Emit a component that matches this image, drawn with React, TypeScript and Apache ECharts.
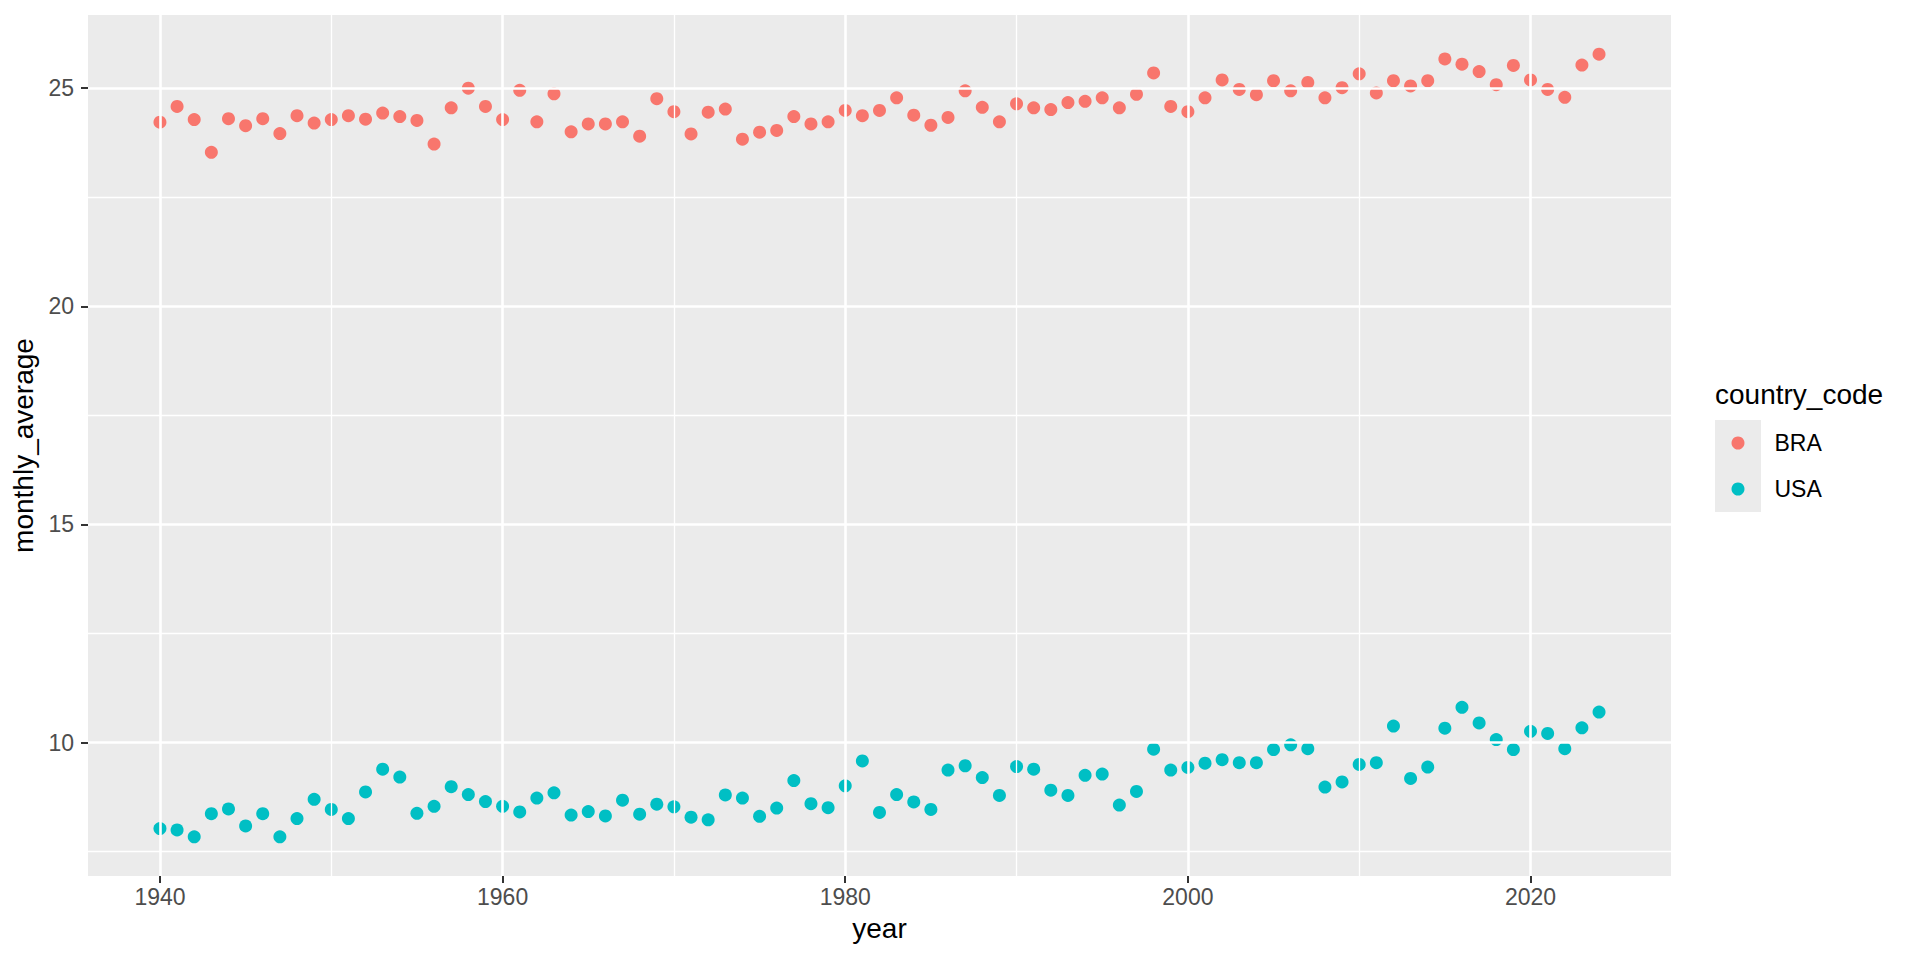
import React, { useEffect, useRef } from "react";
import * as echarts from "echarts";

const years = [
  1940, 1941, 1942, 1943, 1944, 1945, 1946, 1947, 1948, 1949,
  1950, 1951, 1952, 1953, 1954, 1955, 1956, 1957, 1958, 1959,
  1960, 1961, 1962, 1963, 1964, 1965, 1966, 1967, 1968, 1969,
  1970, 1971, 1972, 1973, 1974, 1975, 1976, 1977, 1978, 1979,
  1980, 1981, 1982, 1983, 1984, 1985, 1986, 1987, 1988, 1989,
  1990, 1991, 1992, 1993, 1994, 1995, 1996, 1997, 1998, 1999,
  2000, 2001, 2002, 2003, 2004, 2005, 2006, 2007, 2008, 2009,
  2010, 2011, 2012, 2013, 2014, 2015, 2016, 2017, 2018, 2019,
  2020, 2021, 2022, 2023, 2024,
];

const braValues = [
  24.22, 24.58, 24.28, 23.53, 24.30, 24.14, 24.30, 23.96, 24.37, 24.20,
  24.28, 24.37, 24.29, 24.43, 24.35, 24.26, 23.72, 24.55, 25.00, 24.58,
  24.28, 24.95, 24.23, 24.87, 24.00, 24.18, 24.18, 24.23, 23.90, 24.76,
  24.46, 23.95, 24.45, 24.52, 23.83, 23.99, 24.03, 24.35, 24.18, 24.23,
  24.49, 24.37, 24.49, 24.78, 24.38, 24.15, 24.33, 24.94, 24.56, 24.23,
  24.64, 24.55, 24.51, 24.67, 24.70, 24.78, 24.55, 24.86, 25.35, 24.58,
  24.46, 24.78, 25.19, 24.97, 24.85, 25.17, 24.94, 25.13, 24.78, 25.01,
  25.33, 24.89, 25.17, 25.05, 25.17, 25.67, 25.55, 25.38, 25.08, 25.52,
  25.19, 24.97, 24.79, 25.53, 25.78,
];

const usaValues = [
  8.03, 8.00, 7.84, 8.37, 8.48, 8.09, 8.37, 7.84, 8.26, 8.70,
  8.47, 8.26, 8.87, 9.39, 9.21, 8.38, 8.54, 8.99, 8.81, 8.65,
  8.54, 8.41, 8.73, 8.85, 8.34, 8.42, 8.32, 8.68, 8.36, 8.59,
  8.53, 8.29, 8.23, 8.80, 8.73, 8.31, 8.50, 9.13, 8.60, 8.51,
  9.01, 9.58, 8.40, 8.81, 8.64, 8.47, 9.37, 9.47, 9.20, 8.79,
  9.45, 9.39, 8.91, 8.79, 9.25, 9.28, 8.57, 8.88, 9.85, 9.37,
  9.43, 9.53, 9.61, 9.54, 9.54, 9.84, 9.95, 9.86, 8.98, 9.10,
  9.50, 9.54, 10.38, 9.18, 9.44, 10.33, 10.81, 10.45, 10.07, 9.84,
  10.26, 10.21, 9.86, 10.34, 10.70,
];

const seriesNames = ["BRA", "USA"];
const seriesColors = ["#F8766D", "#00BFC4"];
const xMajorTicks = [1940, 1960, 1980, 2000, 2020];
const xMinorTicks = [1950, 1970, 1990, 2010];
const yMajorTicks = [10, 15, 20, 25];
const yMinorTicks = [7.5, 12.5, 17.5, 22.5];

const FONT = "'Liberation Sans', Arial, Helvetica, sans-serif";

export default function App() {
  const ref = useRef<HTMLDivElement>(null);

  useEffect(() => {
    if (!ref.current) return;
    const chart = echarts.init(ref.current, null, { renderer: "svg" });

    const allVals = [...braValues, ...usaValues];
    const yLo = Math.min(...allVals);
    const yHi = Math.max(...allVals);
    const yPad = (yHi - yLo) * 0.05;
    const xLo = years[0];
    const xHi = years[years.length - 1];
    const xPad = (xHi - xLo) * 0.05;

    const gridLines = [
      ...xMajorTicks.map((v) => ({ xAxis: v, lineStyle: { width: 2.6 } })),
      ...xMinorTicks.map((v) => ({ xAxis: v, lineStyle: { width: 1.3 } })),
      ...yMajorTicks.map((v) => ({ yAxis: v, lineStyle: { width: 2.6 } })),
      ...yMinorTicks.map((v) => ({ yAxis: v, lineStyle: { width: 1.3 } })),
    ];

    const valueSets = [braValues, usaValues];

    chart.setOption({
      animation: false,
      textStyle: { fontFamily: FONT },
      grid: {
        left: 88,
        top: 15,
        width: 1583,
        height: 861,
        show: true,
        backgroundColor: "#EBEBEB",
        borderWidth: 0,
        containLabel: false,
        outerBoundsMode: "none",
      },
      xAxis: {
        type: "value",
        min: xLo - xPad,
        max: xHi + xPad,
        name: "year",
        nameLocation: "middle",
        nameGap: 38,
        nameTextStyle: { fontSize: 28, color: "#000000", fontFamily: FONT },
        axisLine: { show: false },
        splitLine: { show: false },
        axisTick: {
          show: true,
          length: 7,
          customValues: xMajorTicks,
          lineStyle: { color: "#333333", width: 2 },
        },
        axisLabel: {
          show: true,
          customValues: xMajorTicks,
          formatter: (v: number) => String(v),
          margin: 9,
          fontSize: 23,
          color: "#4D4D4D",
          fontFamily: FONT,
        },
      },
      yAxis: {
        type: "value",
        min: yLo - yPad,
        max: yHi + yPad,
        name: "monthly_average",
        nameLocation: "middle",
        nameGap: 46,
        nameTextStyle: { fontSize: 28, color: "#000000", fontFamily: FONT },
        axisLine: { show: false },
        splitLine: { show: false },
        axisTick: {
          show: true,
          length: 7,
          customValues: yMajorTicks,
          lineStyle: { color: "#333333", width: 2 },
        },
        axisLabel: {
          show: true,
          customValues: yMajorTicks,
          formatter: (v: number) => String(v),
          margin: 14,
          fontSize: 23,
          color: "#4D4D4D",
          fontFamily: FONT,
        },
      },
      legend: {
        orient: "vertical",
        left: 1731.5,
        top: 420,
        padding: 0,
        itemGap: 0,
        itemWidth: 13,
        itemHeight: 13,
        icon: "circle",
        selectedMode: false,
        data: seriesNames,
        formatter: (name: string) => `{t|${name}}`,
        textStyle: {
          fontSize: 23,
          color: "#000000",
          fontFamily: FONT,
          lineHeight: 46,
          rich: {
            t: {
              fontSize: 23,
              color: "#000000",
              fontFamily: FONT,
              lineHeight: 46,
              padding: [0, 0, 0, 25],
            },
          },
        },
      },
      graphic: [
        {
          type: "rect",
          z: 1,
          shape: { x: 1715, y: 420, width: 46, height: 92 },
          style: { fill: "#EBEBEB" },
        },
        {
          type: "text",
          z: 1,
          x: 1715,
          y: 394,
          style: {
            text: "country_code",
            fontSize: 28,
            fill: "#000000",
            fontFamily: FONT,
            align: "left",
            verticalAlign: "middle",
          },
        },
      ],
      series: [
        {
          name: "gridlines",
          type: "line",
          data: [],
          z: 1,
          silent: true,
          markLine: {
            silent: true,
            symbol: ["none", "none"],
            label: { show: false },
            emphasis: { disabled: true },
            lineStyle: { color: "#FFFFFF", type: "solid", width: 2 },
            data: gridLines,
          },
        },
        ...seriesNames.map((name, i) => ({
          name,
          type: "scatter",
          z: 3,
          symbol: "circle",
          symbolSize: 13,
          itemStyle: { color: seriesColors[i], opacity: 1 },
          data: years.map((yr, j) => [yr, valueSets[i][j]]),
        })),
      ],
    });

    return () => chart.dispose();
  }, []);

  return (
    <div
      ref={ref}
      style={{ position: "absolute", left: 0, top: 0, width: 1920, height: 960 }}
    />
  );
}
